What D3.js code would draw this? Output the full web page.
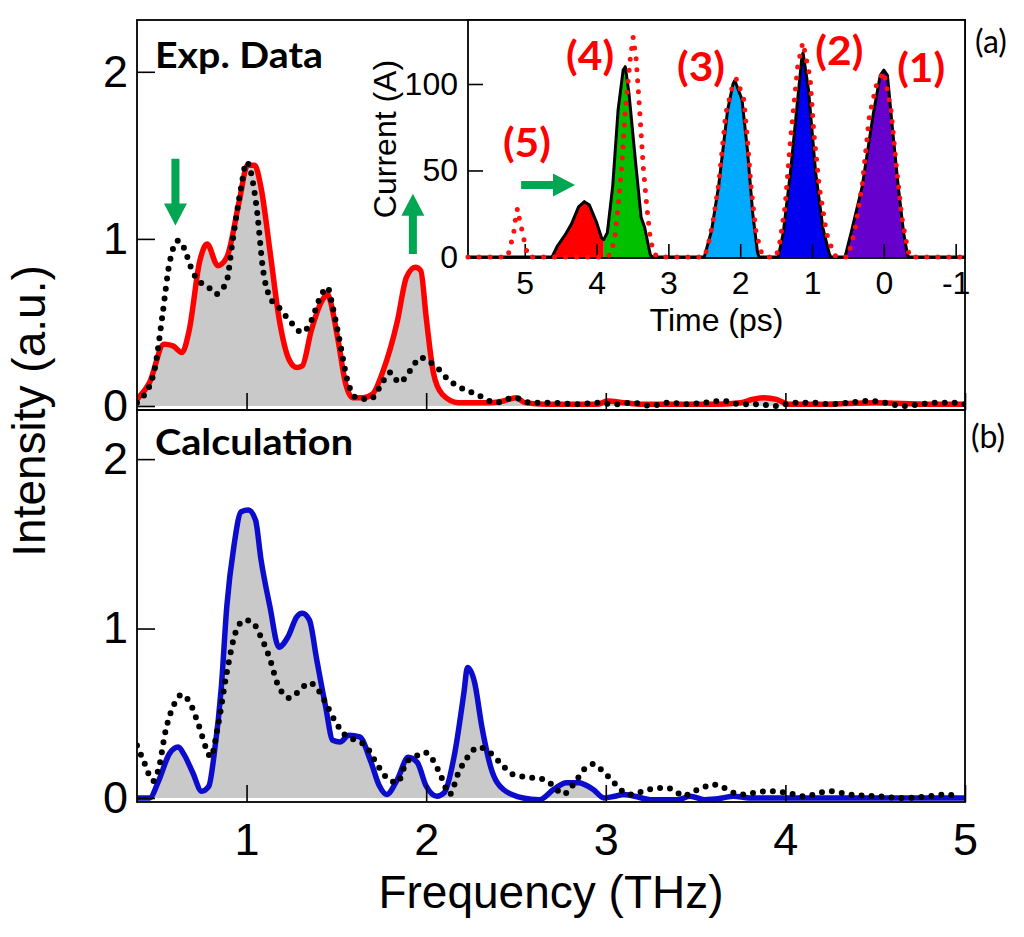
<!DOCTYPE html>
<html>
<head>
<meta charset="utf-8">
<script src="https://cdn.jsdelivr.net/npm/d3@7"></script>
<style>
  body { margin: 0; background: #fff; }
  svg { display: block; }
</style>
</head>
<body>
<div id="chart"></div>
<script>
// ---- data: (a) experimental spectrum ----
const freqExp = [0.39,0.46,0.54,0.59,0.64,0.68,0.74,0.78,0.84,0.89,0.96,1.005,1.045,1.08,1.13,1.18,1.24,1.28,1.31,1.36,1.42,1.45,1.46,1.51,1.55,1.59,1.65,1.70,1.76,1.84,1.89,1.94,1.97,2.00,2.04,2.09,2.18,2.36,2.43,2.50,2.55,2.67,2.84,2.95,3.01,3.1,3.2,3.4,3.6,3.75,3.82,3.88,3.95,4.02,4.2,4.5,4.8,5.0];
const intensityExp = [0.04,0.14,0.37,0.36,0.32,0.45,0.87,0.97,0.84,0.89,1.23,1.44,1.44,1.31,0.93,0.53,0.27,0.23,0.24,0.45,0.63,0.67,0.65,0.39,0.14,0.05,0.05,0.07,0.21,0.51,0.77,0.83,0.81,0.53,0.20,0.07,0.02,0.02,0.03,0.05,0.02,0.01,0.01,0.01,0.03,0.02,0.01,0.01,0.01,0.02,0.04,0.05,0.04,0.01,0.01,0.02,0.01,0.01];

const freqExpRef = [0.39,0.42,0.49,0.53,0.57,0.62,0.65,0.69,0.73,0.78,0.83,0.89,0.92,0.97,1.0,1.04,1.06,1.09,1.13,1.18,1.24,1.31,1.36,1.41,1.45,1.48,1.52,1.56,1.61,1.69,1.74,1.80,1.85,1.91,1.97,2.01,2.06,2.12,2.19,2.28,2.39,2.49,2.58,2.69,2.84,2.95,3.05,3.15,3.25,3.35,3.45,3.55,3.65,3.75,3.85,3.95,4.05,4.15,4.25,4.35,4.47,4.55,4.65,4.75,4.85,4.95,5.0];
const intensityExpRef = [0.02,0.05,0.23,0.53,0.85,0.99,0.95,0.83,0.75,0.72,0.67,0.75,0.97,1.31,1.46,1.31,1.15,0.83,0.65,0.59,0.51,0.44,0.51,0.65,0.71,0.59,0.38,0.16,0.05,0.04,0.11,0.20,0.14,0.21,0.29,0.27,0.23,0.16,0.11,0.07,0.02,0.05,0.02,0.02,0.01,0.02,0.01,0.02,0.0,0.02,0.01,0.02,0.03,0.01,0.01,0.0,0.02,0.02,0.01,0.02,0.03,0.02,0.0,0.01,0.02,0.02,0.01];

// ---- data: (b) calculated spectrum ----
const freqCalc = [0.39,0.46,0.51,0.57,0.62,0.65,0.70,0.75,0.79,0.82,0.86,0.89,0.93,0.97,1.01,1.05,1.08,1.13,1.18,1.23,1.28,1.31,1.35,1.39,1.44,1.48,1.52,1.57,1.63,1.69,1.74,1.78,1.84,1.90,1.95,2.00,2.06,2.10,2.16,2.21,2.23,2.27,2.31,2.36,2.43,2.54,2.63,2.71,2.78,2.85,2.88,2.93,2.99,3.05,3.10,3.16,3.25,3.4,3.47,3.55,3.65,3.71,3.8,4.0,4.5,5.0];
const intensityCalc = [0.0,0.0,0.1,0.26,0.30,0.26,0.15,0.04,0.07,0.26,0.66,1.13,1.49,1.69,1.70,1.64,1.41,1.13,0.89,0.95,1.07,1.09,1.05,0.82,0.54,0.34,0.33,0.37,0.36,0.22,0.07,0.02,0.11,0.24,0.21,0.07,0.01,0.03,0.27,0.62,0.77,0.68,0.42,0.18,0.05,0.0,-0.01,0.05,0.09,0.09,0.08,0.05,0.0,0.01,0.02,0.01,-0.01,-0.01,0.01,-0.01,0.0,0.01,0.0,0.0,0.0,0.0];

const freqCalcRef = [0.39,0.43,0.48,0.51,0.55,0.60,0.64,0.68,0.73,0.78,0.80,0.84,0.89,0.94,0.99,1.03,1.08,1.13,1.17,1.24,1.30,1.35,1.41,1.45,1.50,1.56,1.61,1.67,1.72,1.78,1.84,1.89,1.95,1.99,2.04,2.09,2.13,2.18,2.23,2.29,2.34,2.41,2.48,2.58,2.65,2.71,2.76,2.84,2.88,2.93,2.99,3.03,3.08,3.14,3.18,3.24,3.33,3.39,3.43,3.49,3.54,3.59,3.64,3.69,3.75,3.90,4.01,4.10,4.25,4.36,4.51,4.66,4.80,4.90,4.97];
const intensityCalcRef = [0.31,0.21,0.10,0.17,0.40,0.56,0.61,0.57,0.44,0.28,0.24,0.42,0.74,0.98,1.05,1.04,0.95,0.82,0.68,0.59,0.64,0.68,0.62,0.54,0.44,0.36,0.34,0.30,0.21,0.12,0.09,0.21,0.25,0.27,0.22,0.11,0.02,0.15,0.24,0.30,0.28,0.21,0.14,0.12,0.11,0.07,0.02,0.11,0.17,0.20,0.15,0.11,0.05,0.02,0.03,0.05,0.06,0.04,0.01,0.04,0.06,0.08,0.07,0.04,0.02,0.04,0.03,0.01,0.04,0.02,0.01,0.0,0.01,0.02,0.0];

// ---- data: inset current profile ----
const timeProfile = [5.79,4.62,4.55,4.45,4.42,4.35,4.25,4.17,4.1,4.0,3.93,3.9,3.85,3.775,3.7,3.63,3.6,3.55,3.45,3.38,3.33,3.25,3.22,2.5,2.4,2.3,2.175,2.1,2.075,1.975,1.9,1.825,1.76,1.74,1.47,1.4,1.3,1.2,1.14,1.125,1.05,0.95,0.85,0.76,0.74,0.54,0.45,0.3,0.15,0.05,0,-0.05,-0.125,-0.2,-0.275,-0.33,-0.35,-1.13];
const currentProfile = [0,0,6,12,14,19,29,32,30,20,11,10,14,41,85,108,110,95,52,23,17,1,0,0,15,41,85,100,102,91,62,25,3,0,0,14,49,91,116,118,97,49,17,2,0,0,15,41,82,105,108,105,72,41,14,1,0,0];

const timeSim = [5.79,5.24,5.2,5.15,5.12,5.1,5.07,5.03,4.99,4.95,3.85,3.8,3.75,3.7,3.65,3.6,3.53,3.49,3.45,3.4,3.35,3.3,3.25,3.2,3.15,2.5,2.45,2.38,2.3,2.2,2.1,2.05,1.95,1.9,1.85,1.78,1.7,1.66,1.5,1.45,1.375,1.3,1.2,1.14,1.125,1.025,0.975,0.9,0.8,0.7,0.66,0.5,0.45,0.4,0.3,0.2,0.1,0,-0.1,-0.175,-0.25,-0.325,-0.36,-1.13];
const currentSim = [0,0,6,15,25,28,21,14,6,0,0,2,10,29,52,85,115,127,115,85,52,29,10,2,0,0,6,20,42,83,100,103,91,68,41,14,2,0,0,8,29,68,110,122,124,103,72,41,14,2,0,0,8,16,42,82,100,107,85,52,23,6,0,0];

// bunch segments (time ranges) and their fill colours
const bunchStart = [4.62, 3.9, 2.5, 1.47, 0.54];
const bunchEnd = [3.9, 3.22, 1.74, 0.74, -0.35];
const bunchColor = ['#ff0000', '#00c000', '#00aaff', '#0000f0', '#6600cc'];
const bunchLabel = ['(5)', '(4)', '(3)', '(2)', '(1)'];
const bunchLabelTime = [4.97, 4.09, 2.545, 0.62, -0.52];
const bunchLabelCurrent = [58, 108, 102, 111, 101];

// ticks
const freqTicks = [1, 2, 3, 4, 5];
const intensityTicks = [0, 1, 2];
const timeTicks = [5, 4, 3, 2, 1, 0, -1];
const currentTicks = [0, 50, 100];

// ---- layout ----
const W = 1024, H = 937;
const plotL = 137, plotR = 965, plotT = 20, plotMid = 410, plotB = 802;
const insetL = 468, insetB = 258;
const tickFont = '"Liberation Sans", Arial, sans-serif';
const boldFont = 'Lato, "Open Sans", sans-serif';

const svg = d3.select('#chart').append('svg')
  .attr('width', W)
  .attr('height', H)
  .attr('viewBox', `0 0 ${W} ${H}`);

const x = d3.scaleLinear().domain([0.39, 5]).range([plotL, plotR]);
const yTop = d3.scaleLinear().domain([-0.024, 2.31]).range([plotMid, plotT]);
const yBot = d3.scaleLinear().domain([-0.024, 2.29]).range([plotB, plotMid]);
const tx = d3.scaleLinear().domain([5.79, -1.13]).range([insetL, plotR]);
const ty = d3.scaleLinear().domain([-0.6, 137]).range([insetB, plotT]);

const defs = svg.append('defs');
defs.append('clipPath').attr('id', 'clip-top')
  .append('rect').attr('x', plotL).attr('y', plotT).attr('width', plotR - plotL).attr('height', plotMid - plotT);
defs.append('clipPath').attr('id', 'clip-bot')
  .append('rect').attr('x', plotL).attr('y', plotMid).attr('width', plotR - plotL).attr('height', plotB - plotMid);

function drawSpectrum(clipId, yScale, fx, fy, rx, ry, lineColor) {
  const g = svg.append('g').attr('clip-path', `url(#${clipId})`);
  const pts = fx.map((f, i) => [f, fy[i]]);
  const ref = rx.map((f, i) => [f, ry[i]]);

  const area = d3.area()
    .x(d => x(d[0]))
    .y0(yScale(0))
    .y1(d => yScale(d[1]))
    .curve(d3.curveMonotoneX);
  const line = d3.line()
    .x(d => x(d[0]))
    .y(d => yScale(d[1]))
    .curve(d3.curveMonotoneX);

  g.append('path').datum(pts).attr('d', area).attr('fill', '#c9c9c9');
  g.append('path').datum(pts).attr('d', line)
    .attr('fill', 'none').attr('stroke', lineColor).attr('stroke-width', 5.5)
    .attr('stroke-linejoin', 'round');
  g.append('path').datum(ref).attr('d', line)
    .attr('fill', 'none').attr('stroke', '#000').attr('stroke-width', 6)
    .attr('stroke-linecap', 'round').attr('stroke-dasharray', '0 10');
}

drawSpectrum('clip-top', yTop, freqExp, intensityExp, freqExpRef, intensityExpRef, '#ff0000');
drawSpectrum('clip-bot', yBot, freqCalc, intensityCalc, freqCalcRef, intensityCalcRef, '#0c0ccc');

function styleAxis(g, size) {
  g.select('.domain').remove();
  g.selectAll('.tick line').attr('stroke', '#000').attr('stroke-width', 1.6);
  g.selectAll('.tick text')
    .attr('fill', '#000')
    .style('font-family', tickFont)
    .style('font-size', size + 'px');
}

// main axes
svg.append('g').attr('transform', `translate(0,${plotMid})`)
  .call(d3.axisBottom(x).tickValues(freqTicks).tickSizeInner(-17).tickSizeOuter(0).tickFormat(''))
  .call(g => styleAxis(g, 45));
svg.append('g').attr('transform', `translate(0,${plotB})`)
  .call(d3.axisBottom(x).tickValues(freqTicks).tickSizeInner(-17).tickSizeOuter(0).tickPadding(21).tickFormat(d3.format('d')))
  .call(g => styleAxis(g, 45));
svg.append('g').attr('transform', `translate(${plotL},0)`)
  .call(d3.axisLeft(yTop).tickValues(intensityTicks).tickSizeInner(-18).tickSizeOuter(0).tickPadding(9).tickFormat(d3.format('d')))
  .call(g => styleAxis(g, 45));
svg.append('g').attr('transform', `translate(${plotL},0)`)
  .call(d3.axisLeft(yBot).tickValues(intensityTicks).tickSizeInner(-18).tickSizeOuter(0).tickPadding(9).tickFormat(d3.format('d')))
  .call(g => styleAxis(g, 45));

// panel frames
svg.append('rect').attr('x', plotL).attr('y', plotT).attr('width', plotR - plotL).attr('height', plotMid - plotT)
  .attr('fill', 'none').attr('stroke', '#000').attr('stroke-width', 1.8);
svg.append('rect').attr('x', plotL).attr('y', plotMid).attr('width', plotR - plotL).attr('height', plotB - plotMid)
  .attr('fill', 'none').attr('stroke', '#000').attr('stroke-width', 1.8);

// ---- inset ----
const inset = svg.append('g');
inset.append('rect').attr('x', insetL).attr('y', plotT)
  .attr('width', plotR - insetL).attr('height', insetB - plotT).attr('fill', '#fff');

const profile = timeProfile.map((t, i) => [t, currentProfile[i]]);
const sim = timeSim.map((t, i) => [t, currentSim[i]]);

const insetArea = d3.area().x(d => tx(d[0])).y0(ty(0)).y1(d => ty(d[1]));
const insetLine = d3.line().x(d => tx(d[0])).y(d => ty(d[1]));

bunchStart.forEach((s, i) => {
  const seg = profile.filter(d => d[0] <= s && d[0] >= bunchEnd[i]);
  inset.append('path').datum(seg).attr('d', insetArea).attr('fill', bunchColor[i]);
});
inset.append('path').datum(profile).attr('d', insetLine)
  .attr('fill', 'none').attr('stroke', '#000').attr('stroke-width', 3).attr('stroke-linejoin', 'round');

inset.append('g').attr('transform', `translate(0,${insetB})`)
  .call(d3.axisBottom(tx).tickValues(timeTicks).tickSizeInner(-14).tickSizeOuter(0).tickPadding(13).tickFormat(d => String(d)))
  .call(g => styleAxis(g, 32));
inset.append('g').attr('transform', `translate(${insetL},0)`)
  .call(d3.axisLeft(ty).tickValues(currentTicks).tickSizeInner(-15).tickSizeOuter(0).tickPadding(10).tickFormat(d => String(d)))
  .call(g => styleAxis(g, 32));
inset.append('rect').attr('x', insetL).attr('y', plotT)
  .attr('width', plotR - insetL).attr('height', insetB - plotT)
  .attr('fill', 'none').attr('stroke', '#000').attr('stroke-width', 1.8);

inset.append('path').datum(sim).attr('d', insetLine)
  .attr('fill', 'none').attr('stroke', '#ff1010').attr('stroke-width', 5)
  .attr('stroke-linecap', 'round').attr('stroke-dasharray', '0 11');

// bunch labels
inset.selectAll('.bunch-label')
  .data(bunchLabel)
  .enter()
  .append('text')
  .attr('class', 'bunch-label')
  .attr('x', (d, i) => tx(bunchLabelTime[i]))
  .attr('y', (d, i) => ty(bunchLabelCurrent[i]))
  .attr('text-anchor', 'middle')
  .attr('textLength', 48)
  .attr('lengthAdjust', 'spacingAndGlyphs')
  .style('font-family', boldFont)
  .style('font-weight', 'bold')
  .style('font-size', '40px')
  .style('fill', '#ff0000')
  .text(d => d);

// ---- axis titles ----
svg.append('text')
  .attr('transform', `translate(45,${(plotT + plotB) / 2})rotate(-90)`)
  .attr('text-anchor', 'middle')
  .style('font-family', tickFont).style('font-size', '46px')
  .text('Intensity (a.u.)');
svg.append('text')
  .attr('x', (plotL + plotR) / 2).attr('y', 908)
  .attr('text-anchor', 'middle')
  .style('font-family', tickFont).style('font-size', '46px')
  .text('Frequency (THz)');
svg.append('text')
  .attr('transform', `translate(396,${(plotT + insetB) / 2})rotate(-90)`)
  .attr('text-anchor', 'middle')
  .style('font-family', tickFont).style('font-size', '32px')
  .text('Current (A)');
svg.append('text')
  .attr('x', (insetL + plotR) / 2).attr('y', 331)
  .attr('text-anchor', 'middle')
  .style('font-family', tickFont).style('font-size', '32px')
  .text('Time (ps)');

// panel titles
svg.append('text').attr('x', 155).attr('y', 68)
  .attr('textLength', 168).attr('lengthAdjust', 'spacingAndGlyphs')
  .style('font-family', boldFont).style('font-weight', 'bold').style('font-size', '37px')
  .text('Exp. Data');
svg.append('text').attr('x', 155).attr('y', 455)
  .attr('textLength', 198).attr('lengthAdjust', 'spacingAndGlyphs')
  .style('font-family', boldFont).style('font-weight', 'bold').style('font-size', '37px')
  .text('Calculation');
svg.append('text').attr('x', 991).attr('y', 53).attr('text-anchor', 'middle')
  .style('font-family', boldFont).style('font-size', '32px').text('(a)');
svg.append('text').attr('x', 988).attr('y', 448).attr('text-anchor', 'middle')
  .style('font-family', boldFont).style('font-size', '32px').text('(b)');

// ---- green arrows ----
function arrow(x1, y1, x2, y2) {
  const dx = x2 - x1, dy = y2 - y1;
  const len = Math.hypot(dx, dy);
  const ux = dx / len, uy = dy / len;
  const nx = -uy, ny = ux;
  const hl = 22, hw = 11.5, sw = 4;
  const bx = x2 - ux * hl, by = y2 - uy * hl;
  const p = [
    [x1 + nx * sw, y1 + ny * sw],
    [bx + nx * sw, by + ny * sw],
    [bx + nx * hw, by + ny * hw],
    [x2, y2],
    [bx - nx * hw, by - ny * hw],
    [bx - nx * sw, by - ny * sw],
    [x1 - nx * sw, y1 - ny * sw]
  ];
  svg.append('path').attr('d', 'M' + p.map(q => q.join(',')).join('L') + 'Z').attr('fill', '#00a651');
}
arrow(x(0.604), yTop(1.48), x(0.604), yTop(1.08));
arrow(x(1.926), yTop(0.91), x(1.926), yTop(1.27));
arrow(tx(5.05), ty(41.6), tx(4.30), ty(41.6));
</script>
</body>
</html>
